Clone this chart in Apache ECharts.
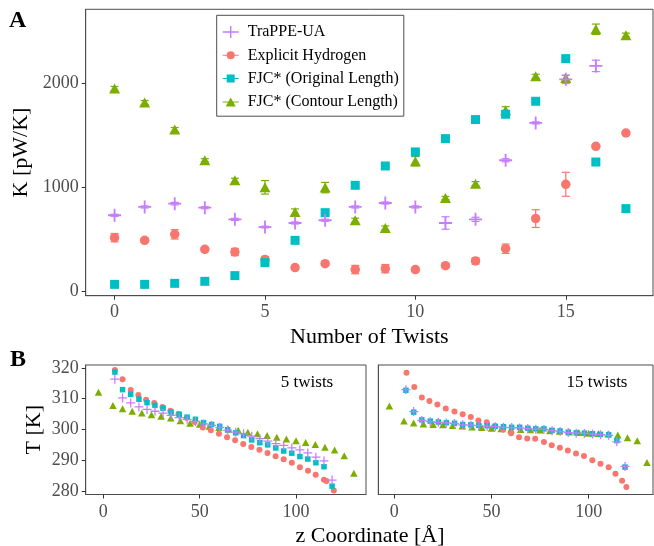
<!DOCTYPE html>
<html>
<head>
<meta charset="utf-8">
<script src="https://cdn.jsdelivr.net/npm/echarts@6/dist/echarts.min.js"></script>
<style>
  html, body { margin: 0; padding: 0; background: #ffffff; }
  #chart { width: 654px; height: 546px; }
</style>
</head>
<body>
<div id="chart"></div>
<script>
// ---------- Panel A: thermal conductance vs number of twists ----------
const twists = [0, 1, 2, 3, 4, 5, 6, 7, 8, 9, 10, 11, 12, 13, 14, 15, 16, 17];
const trappeK   = [731, 811, 843, 804, 692, 618, 657, 683, 811, 849, 811, 657, 692, 1260, 1619, 2038, 2167];
const trappeErr = [10, 10, 12, 10, 10, 8, 10, 10, 10, 10, 10, 60, 20, 15, 10, 40, 55];
const explicitK   = [516, 490, 548, 404, 378, 305, 228, 266, 209, 218, 209, 247, 292, 410, 699, 1029, 1394, 1522];
const explicitErr = [40, 20, 45, 15, 35, 30, 15, 15, 40, 40, 15, 20, 30, 45, 85, 115, 15, 15];
const originalK   = [67, 67, 77, 96, 151, 276, 490, 756, 1019, 1205, 1340, 1468, 1651, 1702, 1827, 2237, 1243, 795];
const originalErr = [10, 10, 10, 10, 12, 15, 15, 15, 15, 15, 15, 15, 15, 15, 15, 15, 15, 15];
const contourK   = [1949, 1814, 1555, 1260, 1067, 1000, 762, 997, 683, 609, 1250, 897, 1035, 1740, 2067, 2051, 2519, 2462];
const contourErr = [20, 20, 20, 15, 20, 65, 30, 50, 20, 20, 45, 15, 20, 35, 20, 25, 50, 20];
const kTicks = [0, 1000, 2000];
const twistTicks = [0, 5, 10, 15];

// ---------- Panel B: temperature profiles along the chain ----------
const zBins = [6, 10, 14.2, 18.5, 22.7, 26.8, 31, 35.2, 39.4, 43.5, 47.8, 52, 56.2, 60.4,
               64.5, 68.7, 72.8, 77, 81.2, 85.3, 89.5, 93.6, 97.8, 102, 106.1, 110.3, 114.5, 118.7];
const zContour = [-2.5, 5, 10, 15, 20, 25, 30, 35, 40, 45, 50, 55, 60, 65, 70, 75, 80, 85,
                  90, 95, 100, 105, 110, 115, 120, 125, 130];

// 5 twists
const zExplicit5 = [6, 10, 14.2, 18.2, 22.2, 26.4, 30.7, 34.8, 39, 43.2, 47.4, 51.6, 55.8, 60,
                    64.2, 68.4, 72.6, 76.8, 81, 85.2, 89.4, 93.6, 97.8, 102, 106.2, 110.2, 114.5, 115.8, 119.6];
const tExplicit5 = [319.3, 316.3, 312.8, 311.2, 309.6, 308.6, 307.3, 306.1, 305.0, 303.7, 302.4, 300.6, 299.7, 298.6,
                    297.5, 296.5, 295.3, 294.3, 293.4, 292.4, 291.3, 290.3, 289.2, 287.7, 286.6, 285.3, 283.7, 283.3, 280.2];
const tTrappe5 = [316.3, 310.2, 308.6, 307.3, 306.5, 305.9, 305.3, 304.6, 303.8, 303.3, 302.6, 301.8, 301.3, 300.7,
                  299.8, 299.1, 298.6, 297.8, 297.0, 296.2, 295.4, 294.8, 294.0, 293.4, 292.4, 291.0, 289.8, 283.6];
const tOriginal5 = [318.6, 312.9, 311.4, 309.8, 308.7, 307.8, 306.9, 305.6, 304.9, 304.0, 303.3, 302.2, 301.6, 301.0,
                    299.9, 298.9, 298.0, 296.6, 295.7, 295.0, 294.0, 293.0, 292.3, 291.2, 290.4, 289.2, 287.9, 281.6];
const tContour5 = [312.1, 307.8, 306.7, 305.9, 305.3, 304.8, 304.3, 303.7, 302.8, 302.0, 301.7, 301.0, 300.6, 300.1,
                   299.7, 299.1, 298.6, 298.0, 297.5, 296.9, 296.3, 295.8, 295.1, 294.2, 293.3, 291.5, 285.8];

// 15 twists
const zExplicit15 = [6.3, 10.3, 14.2, 18.1, 22.2, 26.5, 31, 35.2, 39.4, 43.3, 47.6, 51.8, 56, 60.1,
                     64.2, 68.4, 72.5, 77, 81, 85.2, 89.3, 93.5, 97.6, 101.9, 106.1, 110.3, 113.8, 117.2, 119.4];
const tExplicit15 = [318.4, 313.8, 310.4, 309.2, 308.1, 306.8, 305.8, 304.9, 304.0, 302.9, 302.3, 301.1, 299.9, 298.8,
                     297.5, 297.1, 297.0, 295.9, 294.9, 294.1, 293.2, 292.2, 291.4, 290.0, 288.9, 287.7, 285.6, 283.4, 281.3];
const tTrappe15 = [312.9, 305.8, 302.9, 302.5, 302.3, 302.1, 301.9, 301.5, 301.4, 301.2, 301.0, 300.9, 300.7, 300.6,
                   300.5, 300.3, 300.1, 300.0, 299.6, 299.3, 299.0, 298.8, 298.7, 298.5, 298.3, 298.1, 296.0, 288.0];
const tOriginal15 = [312.7, 305.6, 303.1, 302.7, 302.4, 302.2, 302.0, 301.6, 301.5, 301.3, 301.2, 301.0, 300.9, 300.7,
                     300.7, 300.4, 300.2, 300.2, 299.7, 299.5, 299.1, 298.9, 298.8, 298.6, 298.4, 298.3, 296.4, 287.8];
const tContour15 = [307.6, 302.7, 302.1, 301.8, 301.6, 301.5, 301.3, 301.1, 300.8, 300.6, 300.4, 300.2, 300.1, 300.0,
                    299.9, 299.8, 299.6, 299.4, 299.2, 299.0, 298.8, 298.7, 298.5, 298.2, 297.3, 296.3, 289.3];
const zTicks = [0, 50, 100];
const tTicks = [280, 290, 300, 310, 320];

const seriesNames = ['TraPPE-UA', 'Explicit Hydrogen', 'FJC* (Original Length)', 'FJC* (Contour Length)'];
const colors = { trappe: '#C77CFF', explicit: '#F8766D', original: '#00BFC4', contour: '#7CAE00' };

const FONT = '"Liberation Serif", "Times New Roman", serif';
const PLUS = 'path://M43,0H57V100H43Z M0,43H100V57H0Z';

function pairs(xs, ys) {
  return ys.map((y, i) => [xs[i], y]);
}
function errRows(xs, ys, es) {
  return ys.map((y, i) => [xs[i], y - es[i], y + es[i]]);
}

function errorBars(name, color, rows) {
  return {
    type: 'custom', name: name, xAxisIndex: 0, yAxisIndex: 0,
    data: rows, encode: { x: 0, y: [1, 2] }, silent: true,
    renderItem: function (params, api) {
      const x = api.value(0);
      const a = api.coord([x, api.value(1)]);
      const b = api.coord([x, api.value(2)]);
      const w = 4;
      const st = { stroke: color, lineWidth: 1.2 };
      return {
        type: 'group', children: [
          { type: 'line', shape: { x1: a[0], y1: a[1], x2: b[0], y2: b[1] }, style: st },
          { type: 'line', shape: { x1: a[0] - w, y1: a[1], x2: a[0] + w, y2: a[1] }, style: st },
          { type: 'line', shape: { x1: b[0] - w, y1: b[1], x2: b[0] + w, y2: b[1] }, style: st }
        ]
      };
    }
  };
}

function scatter(name, color, symbol, size, data, axis) {
  return {
    type: 'scatter', name: name, xAxisIndex: axis, yAxisIndex: axis,
    symbol: symbol, symbolSize: size, data: data, silent: true,
    itemStyle: { color: color, opacity: 1 }
  };
}

const SYM = {
  trappe:   { top: [PLUS, 13], bot: [PLUS, 9] },
  explicit: { top: ['circle', 9.5], bot: ['circle', 6] },
  original: { top: ['rect', 9], bot: ['rect', 5.5] },
  contour:  { top: ['triangle', [11, 10]], bot: ['triangle', [7.5, 7]] }
};

const series = [
  // panel A
  errorBars('contour-err', colors.contour, errRows(twists, contourK, contourErr)),
  scatter(seriesNames[3], colors.contour, SYM.contour.top[0], SYM.contour.top[1], pairs(twists, contourK), 0),
  errorBars('explicit-err', colors.explicit, errRows(twists, explicitK, explicitErr)),
  scatter(seriesNames[1], colors.explicit, SYM.explicit.top[0], SYM.explicit.top[1], pairs(twists, explicitK), 0),
  errorBars('original-err', colors.original, errRows(twists, originalK, originalErr)),
  scatter(seriesNames[2], colors.original, SYM.original.top[0], SYM.original.top[1], pairs(twists, originalK), 0),
  errorBars('trappe-err', colors.trappe, errRows(twists, trappeK, trappeErr)),
  scatter(seriesNames[0], colors.trappe, SYM.trappe.top[0], SYM.trappe.top[1], pairs(twists, trappeK), 0),
  // panel B, 5 twists
  scatter('c5', colors.contour, SYM.contour.bot[0], SYM.contour.bot[1], pairs(zContour, tContour5), 1),
  scatter('e5', colors.explicit, SYM.explicit.bot[0], SYM.explicit.bot[1], pairs(zExplicit5, tExplicit5), 1),
  scatter('o5', colors.original, SYM.original.bot[0], SYM.original.bot[1], pairs(zBins, tOriginal5), 1),
  scatter('t5', colors.trappe, SYM.trappe.bot[0], SYM.trappe.bot[1], pairs(zBins, tTrappe5), 1),
  // panel B, 15 twists
  scatter('c15', colors.contour, SYM.contour.bot[0], SYM.contour.bot[1], pairs(zContour, tContour15), 2),
  scatter('e15', colors.explicit, SYM.explicit.bot[0], SYM.explicit.bot[1], pairs(zExplicit15, tExplicit15), 2),
  scatter('o15', colors.original, SYM.original.bot[0], SYM.original.bot[1], pairs(zBins, tOriginal15), 2),
  scatter('t15', colors.trappe, SYM.trappe.bot[0], SYM.trappe.bot[1], pairs(zBins, tTrappe15), 2)
];

const axisLabelStyle = { color: '#4D4D4D', fontFamily: FONT, fontSize: 18, formatter: v => String(v) };
const tickStyle = { show: true, inside: false, lineStyle: { color: '#333333', width: 1 }, length: 4 };
const nameStyle = { color: '#000000', fontFamily: FONT, fontSize: 22 };

function valueAxis(extra) {
  return Object.assign({
    type: 'value', splitLine: { show: false },
    axisLine: { show: true, onZero: false, lineStyle: { color: '#4d4d4d', width: 1 } }
  }, extra);
}

const legendIcons = [
  'path://M7.3,0H8.7V12H7.3Z M0,5.3H16V6.7H0Z',
  'path://M0,5.5H16V6.5H0Z M12,6A4,4 0 1 1 4,6A4,4 0 1 1 12,6Z',
  'path://M0,5.5H16V6.5H0Z M4,2H12V10H4Z',
  'path://M0,5.5H16V6.5H0Z M8,1.5L13,10.5H3Z'
];

const option = {
  animation: false,
  backgroundColor: '#ffffff',
  grid: [
    { left: 85.7, top: 9.3, width: 567.3, height: 286.4, show: true, borderColor: '#4d4d4d', borderWidth: 1, containLabel: false },
    { left: 85.7, top: 365, width: 280.3, height: 129.5, show: true, borderColor: '#4d4d4d', borderWidth: 1, containLabel: false },
    { left: 378.3, top: 365, width: 274.7, height: 129.5, show: true, borderColor: '#4d4d4d', borderWidth: 1, containLabel: false }
  ],
  xAxis: [
    valueAxis({
      gridIndex: 0, min: -0.96, max: 17.9,
      axisTick: Object.assign({ customValues: twistTicks }, tickStyle),
      axisLabel: Object.assign({ customValues: twistTicks, margin: 8 }, axisLabelStyle),
      name: 'Number of Twists', nameLocation: 'middle', nameGap: 27, nameTextStyle: nameStyle
    }),
    valueAxis({
      gridIndex: 1, min: -9.13, max: 136.3,
      axisTick: Object.assign({ customValues: zTicks }, tickStyle),
      axisLabel: Object.assign({ customValues: zTicks, margin: 9 }, axisLabelStyle)
    }),
    valueAxis({
      gridIndex: 2, min: -8.2, max: 133.1,
      axisTick: Object.assign({ customValues: zTicks }, tickStyle),
      axisLabel: Object.assign({ customValues: zTicks, margin: 9 }, axisLabelStyle)
    })
  ],
  yAxis: [
    valueAxis({
      gridIndex: 0, min: -42, max: 2711,
      axisTick: Object.assign({ customValues: kTicks }, tickStyle),
      axisLabel: Object.assign({ customValues: kTicks, margin: 7 }, axisLabelStyle),
      name: 'K [pW/K]', nameLocation: 'middle', nameGap: 49, nameRotate: 90, nameTextStyle: nameStyle
    }),
    valueAxis({
      gridIndex: 1, min: 278.9, max: 320.9,
      axisTick: Object.assign({ customValues: tTicks }, tickStyle),
      axisLabel: Object.assign({ customValues: tTicks, margin: 7 }, axisLabelStyle),
      name: 'T [K]', nameLocation: 'middle', nameGap: 40, nameRotate: 90, nameTextStyle: nameStyle
    }),
    valueAxis({
      gridIndex: 2, min: 278.9, max: 320.9,
      axisTick: { show: false }, axisLabel: { show: false }
    })
  ],
  legend: {
    orient: 'vertical', left: 216.7, top: 15.3,
    selectedMode: false,
    backgroundColor: '#ffffff', borderColor: '#4d4d4d', borderWidth: 1,
    padding: [7.7, 5, 5.3, 6],
    itemWidth: 16, itemHeight: 12, itemGap: 5.3,
    textStyle: { color: '#000000', fontFamily: FONT, fontSize: 16, lineHeight: 18, padding: [0, 0, 0, 4] },
    data: seriesNames.map((n, i) => ({ name: n, icon: legendIcons[i] }))
  },
  graphic: [
    { type: 'text', left: 9, top: 9, style: { text: 'A', font: 'bold 24px ' + FONT, fill: '#000000' } },
    { type: 'text', left: 10, top: 348, style: { text: 'B', font: 'bold 24px ' + FONT, fill: '#000000' } },
    { type: 'text', x: 307, y: 383, style: { text: '5 twists', font: '17px ' + FONT, fill: '#000000', align: 'center', verticalAlign: 'middle' } },
    { type: 'text', x: 597, y: 383, style: { text: '15 twists', font: '17px ' + FONT, fill: '#000000', align: 'center', verticalAlign: 'middle' } },
    { type: 'text', x: 370, y: 536, style: { text: 'z Coordinate [Å]', font: '22px ' + FONT, fill: '#000000', align: 'center', verticalAlign: 'middle' } }
  ],
  series: series
};

const chart = echarts.init(document.getElementById('chart'), null, { renderer: 'canvas' });
chart.setOption(option);
</script>
</body>
</html>
